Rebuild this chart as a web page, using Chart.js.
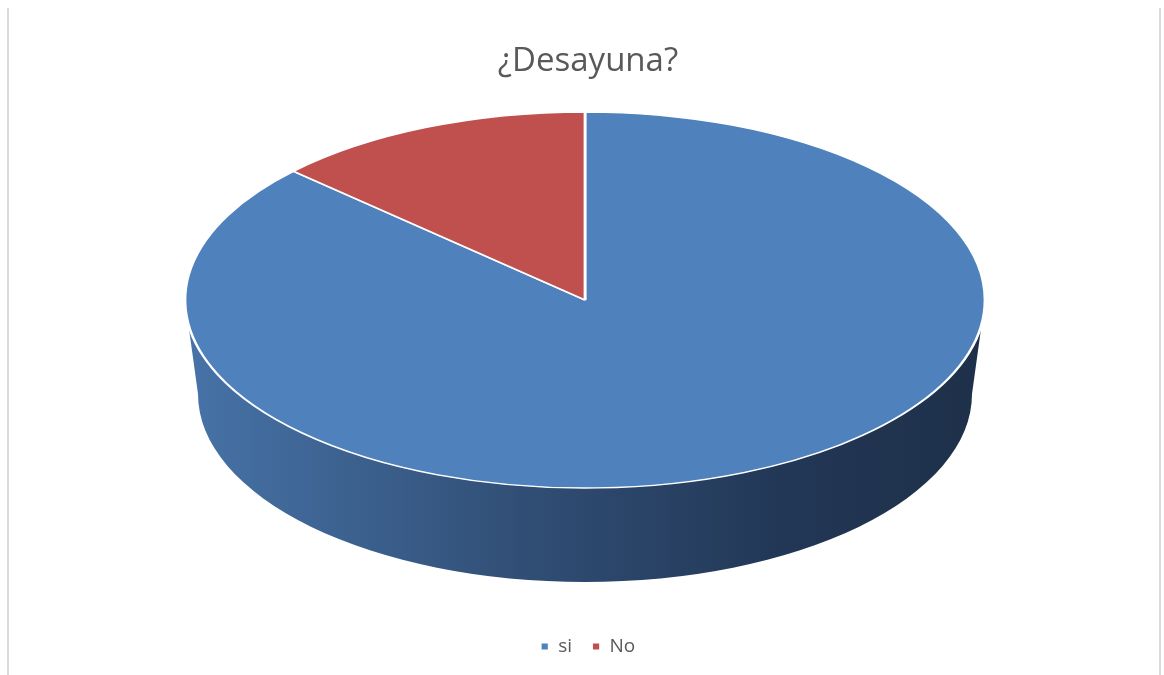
<!DOCTYPE html>
<html>
<head>
<meta charset="utf-8">
<script src="https://cdn.jsdelivr.net/npm/chart.js@4.4.0/dist/chart.umd.min.js"></script>
<style>
  html, body { margin: 0; padding: 0; background: #ffffff; }
  #wrap { width: 1164px; height: 675px; position: relative; }
</style>
</head>
<body>
<div id="wrap"><canvas id="c" width="1164" height="675"></canvas></div>
<script>
// ---- data ----
const categories = ['si', 'No'];
const values = [87, 13];
const sliceColors = ['#4f81bd', '#c0504d'];
const chartTitle = '¿Desayuna?';

// ---- 3D look (styling only) ----
const ELL = { cx: 585, cy: 300, rx: 400, ry: 188, depth: 94, rxBottom: 387, ryBottom: 188 };
const sideStops = [
  [[0, '#4773a8'], [0.45, '#2f4c72'], [0.75, '#223756'], [1, '#1e3049']],
  [[0, '#9a3f3d'], [0.5, '#7a2f2d'], [1, '#5a2120']]
];

const frame = {
  id: 'frame',
  beforeDraw(chart) {
    const ctx = chart.ctx;
    ctx.save();
    ctx.strokeStyle = '#d9d9d9';
    ctx.lineWidth = 2;
    ctx.beginPath();
    ctx.moveTo(8, 8); ctx.lineTo(8, 675);
    ctx.moveTo(1160, 8); ctx.lineTo(1160, 675);
    ctx.stroke();
    ctx.restore();
  }
};

const pie3d = {
  id: 'pie3d',
  beforeDatasetsDraw(chart) {
    const meta = chart.getDatasetMeta(0);
    const ctx = chart.ctx;
    const el0 = meta.data[0];
    const R = el0.outerRadius, ox = el0.x, oy = el0.y;
    // side walls (front half only), using each arc's angles from the library
    ctx.save();
    meta.data.forEach((el, i) => {
      const a0 = el.startAngle, a1 = el.endAngle;
      for (const k of [-2 * Math.PI, 0, 2 * Math.PI]) {
        const s = Math.max(a0 + k, 0), e = Math.min(a1 + k, Math.PI);
        if (e <= s) continue;
        const g = ctx.createLinearGradient(ELL.cx - ELL.rx, 0, ELL.cx + ELL.rx, 0);
        sideStops[i].forEach(st => g.addColorStop(st[0], st[1]));
        ctx.beginPath();
        ctx.ellipse(ELL.cx, ELL.cy, ELL.rx, ELL.ry, 0, s, e, false);
        ctx.ellipse(ELL.cx, ELL.cy + ELL.depth, ELL.rxBottom, ELL.ryBottom, 0, e, s, true);
        ctx.closePath();
        ctx.fillStyle = g;
        ctx.fill();
      }
    });
    ctx.restore();
    // squash the library's pie into the top ellipse
    ctx.save();
    ctx.translate(ELL.cx, ELL.cy);
    ctx.scale(ELL.rx / R, ELL.ry / R);
    ctx.translate(-ox, -oy);
  },
  afterDatasetsDraw(chart) {
    chart.ctx.restore();
  }
};

new Chart(document.getElementById('c'), {
  type: 'pie',
  data: {
    labels: categories,
    datasets: [{
      data: values,
      backgroundColor: sliceColors,
      borderColor: '#ffffff',
      borderWidth: 1.8,
      clip: false
    }]
  },
  options: {
    responsive: false,
    animation: false,
    events: [],
    layout: { padding: { left: 20, right: 8, top: 0, bottom: 9 } },
    plugins: {
      title: {
        display: true,
        text: chartTitle,
        color: '#595959',
        font: { family: "'Open Sans', sans-serif", size: 33, weight: 'normal' },
        padding: { top: 42, bottom: 10 }
      },
      legend: {
        display: true,
        position: 'bottom',
        labels: {
          boxWidth: 8,
          boxHeight: 8,
          padding: 20,
          color: '#595959',
          font: { family: "'Open Sans', sans-serif", size: 19 }
        }
      },
      tooltip: { enabled: false }
    }
  },
  plugins: [frame, pie3d]
});
</script>
</body>
</html>
